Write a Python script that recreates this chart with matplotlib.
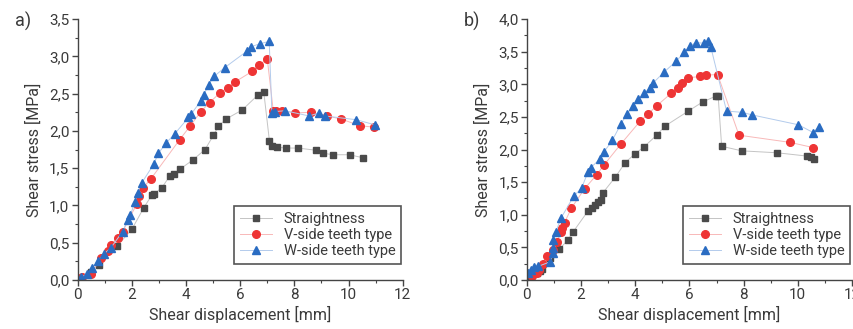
import matplotlib
matplotlib.use("Agg")
import matplotlib.pyplot as plt
from matplotlib.ticker import MultipleLocator, FuncFormatter

plt.rcParams['font.family'] = ['Roboto', 'DejaVu Sans']

# ==========================
# data, panel a)
# ==========================
a_str_x = [0.13, 0.49, 0.77, 1.44, 2.00, 2.44, 2.74, 2.81, 3.11, 3.41, 3.57, 3.79, 4.25, 4.70,
           5.01, 5.19, 5.48, 6.07, 6.65, 6.87, 7.08, 7.18, 7.36, 7.70, 8.12, 8.81, 9.05, 9.44, 10.04, 10.52]
a_str_y = [0.03, 0.11, 0.20, 0.45, 0.68, 0.97, 1.14, 1.15, 1.24, 1.40, 1.42, 1.49, 1.61, 1.75,
           1.94, 2.06, 2.16, 2.28, 2.48, 2.52, 1.86, 1.80, 1.78, 1.77, 1.77, 1.74, 1.70, 1.68, 1.68, 1.64]

a_v_x = [0.17, 0.48, 0.86, 1.13, 1.23, 1.48, 1.66, 2.18, 2.28, 2.40, 2.71, 3.76, 4.14, 4.55, 4.87,
         5.25, 5.54, 5.82, 6.45, 6.70, 7.00, 7.22, 7.32, 7.55, 8.01, 8.61, 9.20, 9.72, 10.41, 10.94]
a_v_y = [0.04, 0.08, 0.29, 0.39, 0.47, 0.56, 0.65, 1.02, 1.12, 1.23, 1.36, 1.88, 2.06, 2.26, 2.38,
         2.51, 2.58, 2.66, 2.80, 2.89, 2.96, 2.27, 2.27, 2.27, 2.24, 2.25, 2.20, 2.16, 2.07, 2.05]

a_w_x = [0.12, 0.36, 0.53, 0.76, 0.97, 1.22, 1.66, 1.85, 1.94, 2.12, 2.21, 2.36, 2.80, 2.98, 3.27,
         3.58, 4.09, 4.18, 4.54, 4.65, 4.83, 5.03, 5.43, 6.25, 6.41, 6.73, 7.07,
         7.17, 7.28, 7.66, 8.55, 8.89, 9.13, 10.28, 10.99]
a_w_y = [0.04, 0.08, 0.16, 0.26, 0.35, 0.43, 0.65, 0.81, 0.87, 1.05, 1.17, 1.30, 1.55, 1.70, 1.84,
         1.96, 2.18, 2.22, 2.40, 2.48, 2.62, 2.73, 2.85, 3.07, 3.13, 3.17, 3.20,
         2.24, 2.26, 2.27, 2.20, 2.24, 2.20, 2.15, 2.08]

# ==========================
# data, panel b)
# ==========================
b_str_x = [0.05, 0.20, 0.39, 0.48, 0.55, 0.85, 1.20, 1.52, 1.71, 2.26, 2.40, 2.51, 2.64, 2.73, 2.81,
           3.27, 3.63, 3.98, 4.32, 4.79, 5.10, 5.96, 6.49, 6.98, 7.06,
           7.19, 7.93, 9.24, 10.33, 10.48, 10.61]
b_str_y = [0.04, 0.08, 0.11, 0.13, 0.17, 0.33, 0.47, 0.62, 0.74, 1.06, 1.10, 1.15, 1.20, 1.23, 1.34,
           1.58, 1.80, 1.93, 2.04, 2.22, 2.36, 2.59, 2.73, 2.82, 2.82,
           2.05, 1.98, 1.95, 1.90, 1.88, 1.85]

b_v_x = [0.19, 0.38, 0.44, 0.58, 0.73, 0.95, 1.10, 1.26, 1.30, 1.39, 1.64, 2.13, 2.57, 2.84,
         3.46, 4.17, 4.46, 4.79, 5.32, 5.56, 5.74, 5.96, 6.39, 6.61, 7.04,
         7.83, 9.71, 10.57]
b_v_y = [0.06, 0.11, 0.16, 0.25, 0.37, 0.46, 0.58, 0.73, 0.79, 0.88, 1.10, 1.40, 1.61, 1.76,
         2.08, 2.43, 2.54, 2.67, 2.86, 2.95, 3.02, 3.10, 3.12, 3.14, 3.15,
         2.22, 2.11, 2.03]

b_w_x = [0.05, 0.15, 0.27, 0.42, 0.87, 0.95, 0.95, 0.95, 1.07, 1.26, 1.72, 2.02, 2.25, 2.35, 2.71,
         2.84, 3.15, 3.47, 3.70, 3.91, 4.11, 4.32, 4.54, 4.66, 5.07, 5.50, 5.81, 6.02, 6.24,
         6.53, 6.67, 6.79, 7.37, 7.95, 8.32, 10.02, 10.57, 10.77]
b_w_y = [0.10, 0.15, 0.20, 0.21, 0.28, 0.41, 0.49, 0.62, 0.74, 0.95, 1.28, 1.41, 1.65, 1.72, 1.86,
         1.96, 2.14, 2.39, 2.55, 2.66, 2.77, 2.86, 2.94, 3.02, 3.19, 3.35, 3.49, 3.59, 3.64,
         3.63, 3.66, 3.57, 2.59, 2.57, 2.53, 2.38, 2.26, 2.35]

labels = ["Straightness", "V-side teeth type", "W-side teeth type"]

# marker / line styles
styles = [
    dict(marker="s", color="#c4c4c4", mfc="#4a4a4a", mec="#4a4a4a", ms=5),
    dict(marker="o", color="#f8b8b8", mfc="#ee3535", mec="#ee3535", ms=5.5),
    dict(marker="^", color="#b3cbec", mfc="#2a6cc2", mec="#2a6cc2", ms=6),
]

comma = FuncFormatter(lambda v, p: f"{v:.1f}".replace(".", ","))

fig = plt.figure(figsize=(8.54, 3.29), dpi=100)
ax_a = fig.add_axes([0.091, 0.149, 0.3806, 0.793])
ax_b = fig.add_axes([0.617, 0.149, 0.3806, 0.793])

panels = [
    (ax_a, [(a_str_x, a_str_y), (a_v_x, a_v_y), (a_w_x, a_w_y)], 3.5, "a)", 0.017),
    (ax_b, [(b_str_x, b_str_y), (b_v_x, b_v_y), (b_w_x, b_w_y)], 4.0, "b)", 0.543),
]

txt = "#3a3a3a"
for ax, series, ymax, tag, tagx in panels:
    for (xs, ys), st, lab in zip(series, styles, labels):
        ax.plot(xs, ys, lw=0.7, label=lab, **st)
    ax.set_xlim(0, 12)
    ax.set_ylim(0, ymax)
    ax.xaxis.set_major_locator(MultipleLocator(2))
    ax.xaxis.set_minor_locator(MultipleLocator(1))
    ax.yaxis.set_major_locator(MultipleLocator(0.5))
    ax.yaxis.set_minor_locator(MultipleLocator(0.25))
    ax.yaxis.set_major_formatter(comma)
    for s in ["top", "right"]:
        ax.spines[s].set_visible(False)
    for s in ["left", "bottom"]:
        ax.spines[s].set_color("#444444")
        ax.spines[s].set_linewidth(1.0)
    ax.tick_params(which="major", length=4, width=1, color="#444444",
                   labelsize=11, labelcolor=txt, pad=2)
    ax.tick_params(which="minor", length=2.5, width=0.8, color="#444444")
    ax.set_xlabel("Shear displacement [mm]", fontsize=11.5, color=txt, labelpad=3)
    ax.set_ylabel("Shear stress [MPa]", fontsize=11.5, color=txt, labelpad=5)
    leg = ax.legend(loc="lower right", bbox_to_anchor=(0.995, 0.06), fontsize=10.5,
                    frameon=True, fancybox=False, framealpha=1, borderpad=0.4,
                    handlelength=2.2, labelspacing=0.15, borderaxespad=0)
    leg.get_frame().set_edgecolor("#555555")
    leg.get_frame().set_linewidth(1.2)
    for t in leg.get_texts():
        t.set_color(txt)
    fig.text(tagx, 0.935, tag, fontsize=13, color=txt, ha="left", va="center")

fig.savefig("out.png", dpi=100)
